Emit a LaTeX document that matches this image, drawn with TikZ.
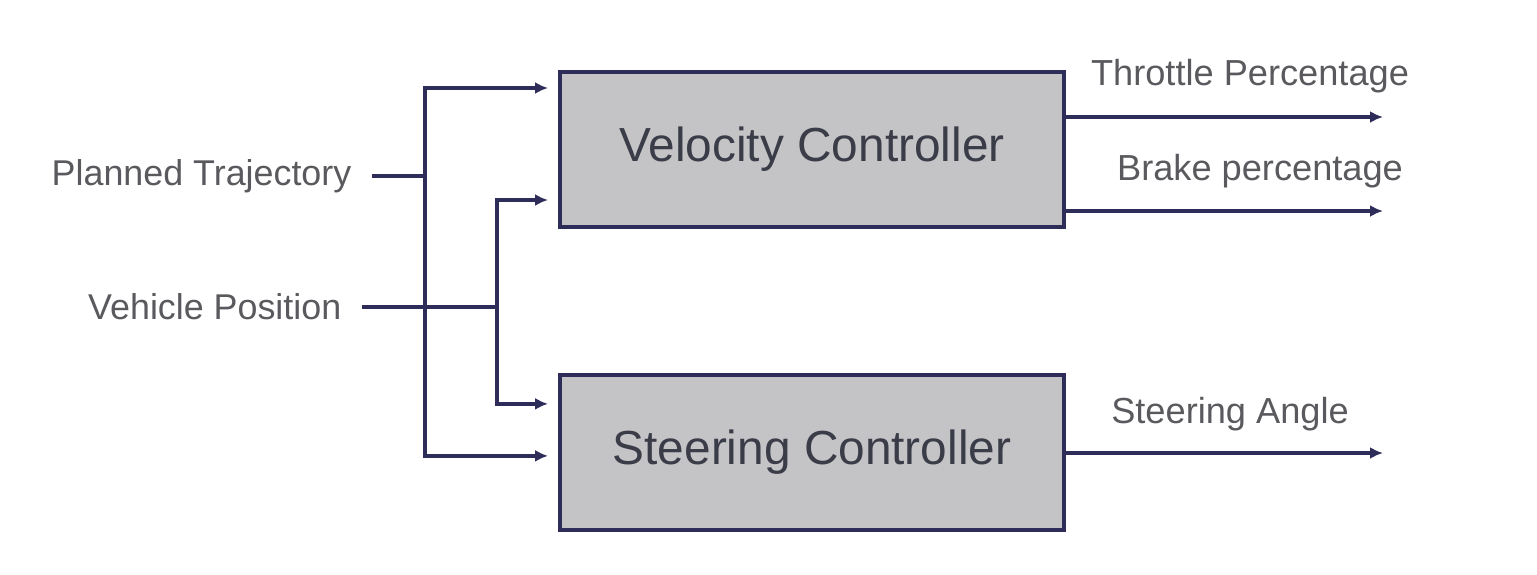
\documentclass[tikz,border=0pt]{standalone}
\usepackage{fontspec}
\setmainfont{Liberation Sans}
\usepackage{tikz}
\usetikzlibrary{calc,positioning,arrows.meta}
\usepackage{xcolor}
\definecolor{wirenavy}{HTML}{2E2D5A}
\definecolor{boxgray}{HTML}{C4C4C6}
\definecolor{labelgray}{HTML}{5A5A5E}
\definecolor{boxtext}{HTML}{3A3C48}

\begin{document}
\begin{tikzpicture}[
        >={Latex[length=1.3mm,width=1.2mm]},
        ctrlbox/.style={
            rectangle,
            draw=wirenavy,
            line width=1.1pt,
            fill=boxgray,
            minimum width=5.04cm,
            minimum height=1.55cm,
            align=center,
            text=boxtext,
            font=\fontsize{13.6}{16}\selectfont
        },
        inlabel/.style={
            anchor=east,
            inner xsep=2mm,
            inner ysep=0pt,
            text=labelgray,
            font=\fontsize{10.2}{12}\selectfont
        },
        outlabel/.style={
            inner sep=0pt,
            text=labelgray,
            font=\fontsize{10.3}{12}\selectfont
        },
        wire/.style={
            line width=1.05pt,
            wirenavy
        },
        arrow/.style={
            ->,
            line width=1.05pt,
            wirenavy
        }
    ]
    \useasboundingbox (0,0) rectangle (15.37,-5.74);

    % Controllers
    \node[ctrlbox] (velo) at (8.12,-1.495) {Velocity Controller};
    \node[ctrlbox, below=1.44cm of velo] (steer) {Steering Controller};

    % Inputs
    \node[inlabel] (traj) at (3.72,-1.76) {Planned Trajectory};
    \node[inlabel] (pos) at (3.62,-3.07) {Vehicle Position};
    \coordinate (jt) at (4.25,-1.76);
    \coordinate (jp) at (4.97,-3.07);

    % Outputs
    \node[outlabel] (throttle) at (12.50,-0.76) {Throttle Percentage};
    \node[outlabel] (brake) at (12.60,-1.71) {Brake percentage};
    \node[outlabel] (angle) at (12.30,-4.14) {Steering Angle};
    \coordinate (throttleend) at (13.83,-1.17);
    \coordinate (brakeend) at (13.83,-2.11);
    \coordinate (angleend) at (13.83,-4.53);

    % Arrows: inputs -> junctions
    \draw[wire] (traj.east) -- (jt);
    \draw[wire] (pos.east) -- (jp);

    % Arrows: junctions -> controllers
    \draw[arrow, shorten >=1mm] (jt) |- ([yshift=6.15mm]velo.west);
    \draw[arrow, shorten >=1mm] (jt) |- ([yshift=-0.35mm]steer.west);
    \draw[arrow, shorten >=1mm] (jp) |- ([yshift=-5.05mm]velo.west);
    \draw[arrow, shorten >=1mm] (jp) |- ([yshift=4.85mm]steer.west);

    % Arrows: controllers -> outputs
    \draw[arrow] (velo.east |- throttleend) -- (throttleend);
    \draw[arrow] (velo.east |- brakeend) -- (brakeend);
    \draw[arrow] (steer.east |- angleend) -- (angleend);

\end{tikzpicture}
\end{document}
